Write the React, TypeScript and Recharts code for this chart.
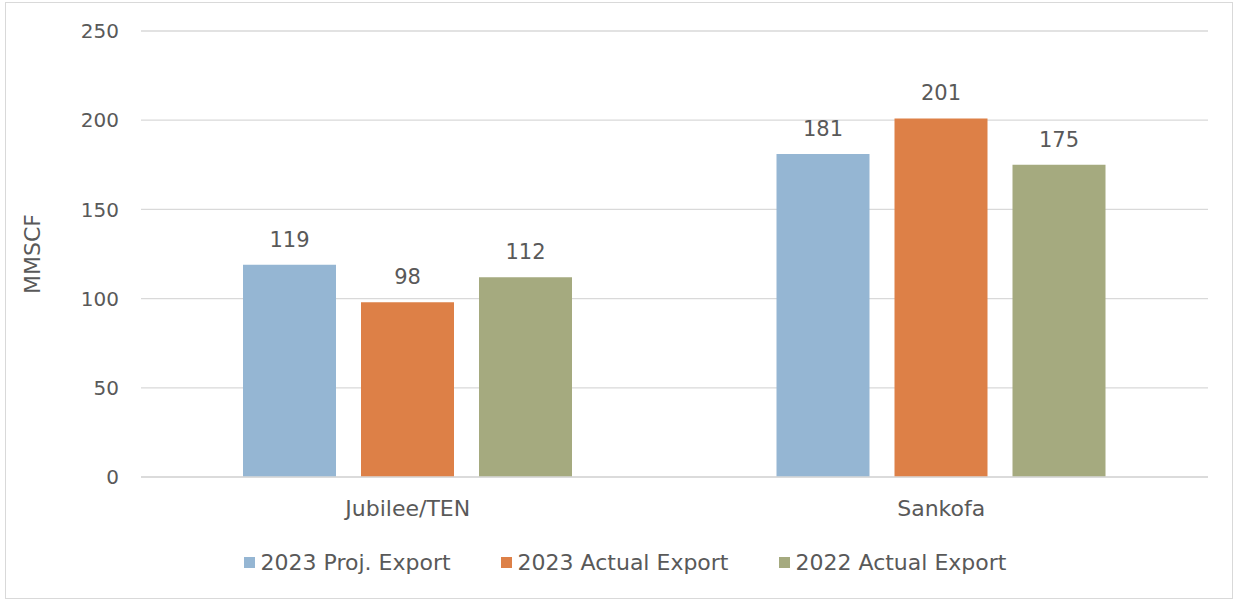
import { BarChart, Bar, XAxis, YAxis, CartesianGrid, Legend, LabelList } from "recharts";

const categories = ["Jubilee/TEN", "Sankofa"];
const proj2023 = [119, 181];
const actual2023 = [98, 201];
const actual2022 = [112, 175];
const yTicks = [0, 50, 100, 150, 200, 250];

const SERIES = [
  { key: "proj2023", name: "2023 Proj. Export", color: "#95B6D3" },
  { key: "actual2023", name: "2023 Actual Export", color: "#DD8047" },
  { key: "actual2022", name: "2022 Actual Export", color: "#A5AA7F" },
];

const data = categories.map((c, i) => ({
  name: c,
  proj2023: proj2023[i],
  actual2023: actual2023[i],
  actual2022: actual2022[i],
}));

const FONT = "'DejaVu Sans', sans-serif";
const TEXT = "#595959";

const LegendContent = ({ payload }: { payload?: { value: string; color: string }[] }) => {
  const items = SERIES.map((s) => (payload ?? []).find((p) => p.value === s.name)).filter(Boolean) as {
    value: string;
    color: string;
  }[];
  return (
    <div style={{ display: "flex", justifyContent: "center", alignItems: "center", height: 40, paddingLeft: 42 }}>
      {items.map((p, i) => (
        <div
          key={p.value}
          style={{ display: "flex", alignItems: "center", marginRight: i < items.length - 1 ? 50 : 0 }}
        >
          <span style={{ width: 11, height: 11, background: p.color, display: "inline-block", marginRight: 6 }} />
          <span style={{ fontSize: 22, color: TEXT, fontFamily: FONT }}>{p.value}</span>
        </div>
      ))}
    </div>
  );
};

export default function App() {
  return (
    <div style={{ position: "absolute", left: 0, top: 0, width: 1237, height: 602, background: "#fff" }}>
      <div
        style={{
          position: "absolute",
          left: 5,
          top: 2,
          width: 1226,
          height: 595,
          border: "1px solid #d9d9d9",
        }}
      />
      <BarChart
        width={1237}
        height={602}
        data={data}
        margin={{ top: 31, right: 29, left: 0, bottom: 20 }}
        barGap={25}
        barSize={93}
      >
        <CartesianGrid vertical={false} stroke="#d9d9d9" strokeWidth={1.3} />
        <XAxis
          dataKey="name"
          height={65}
          axisLine={{ stroke: "#d9d9d9", strokeWidth: 1.3 }}
          tickLine={false}
          tickSize={0}
          tickMargin={23}
          tick={{ fontSize: 22, fill: TEXT, fontFamily: FONT }}
        />
        <YAxis
          width={141}
          domain={[0, 250]}
          ticks={yTicks}
          axisLine={false}
          tickLine={false}
          tickSize={0}
          tickMargin={22}
          tick={{ fontSize: 20, fill: TEXT, fontFamily: FONT }}
          label={{
            value: "MMSCF",
            angle: -90,
            position: "insideLeft",
            offset: 32,
            style: { fontSize: 22, fill: TEXT, fontFamily: FONT, textAnchor: "middle" },
          }}
        />
        <Legend verticalAlign="bottom" height={40} content={<LegendContent />} />
        {SERIES.map((s) => (
          <Bar key={s.key} dataKey={s.key} name={s.name} fill={s.color} isAnimationActive={false}>
            <LabelList
              dataKey={s.key}
              position="top"
              offset={18}
              style={{ fontSize: 21, fill: TEXT, fontFamily: FONT }}
            />
          </Bar>
        ))}
      </BarChart>
    </div>
  );
}
